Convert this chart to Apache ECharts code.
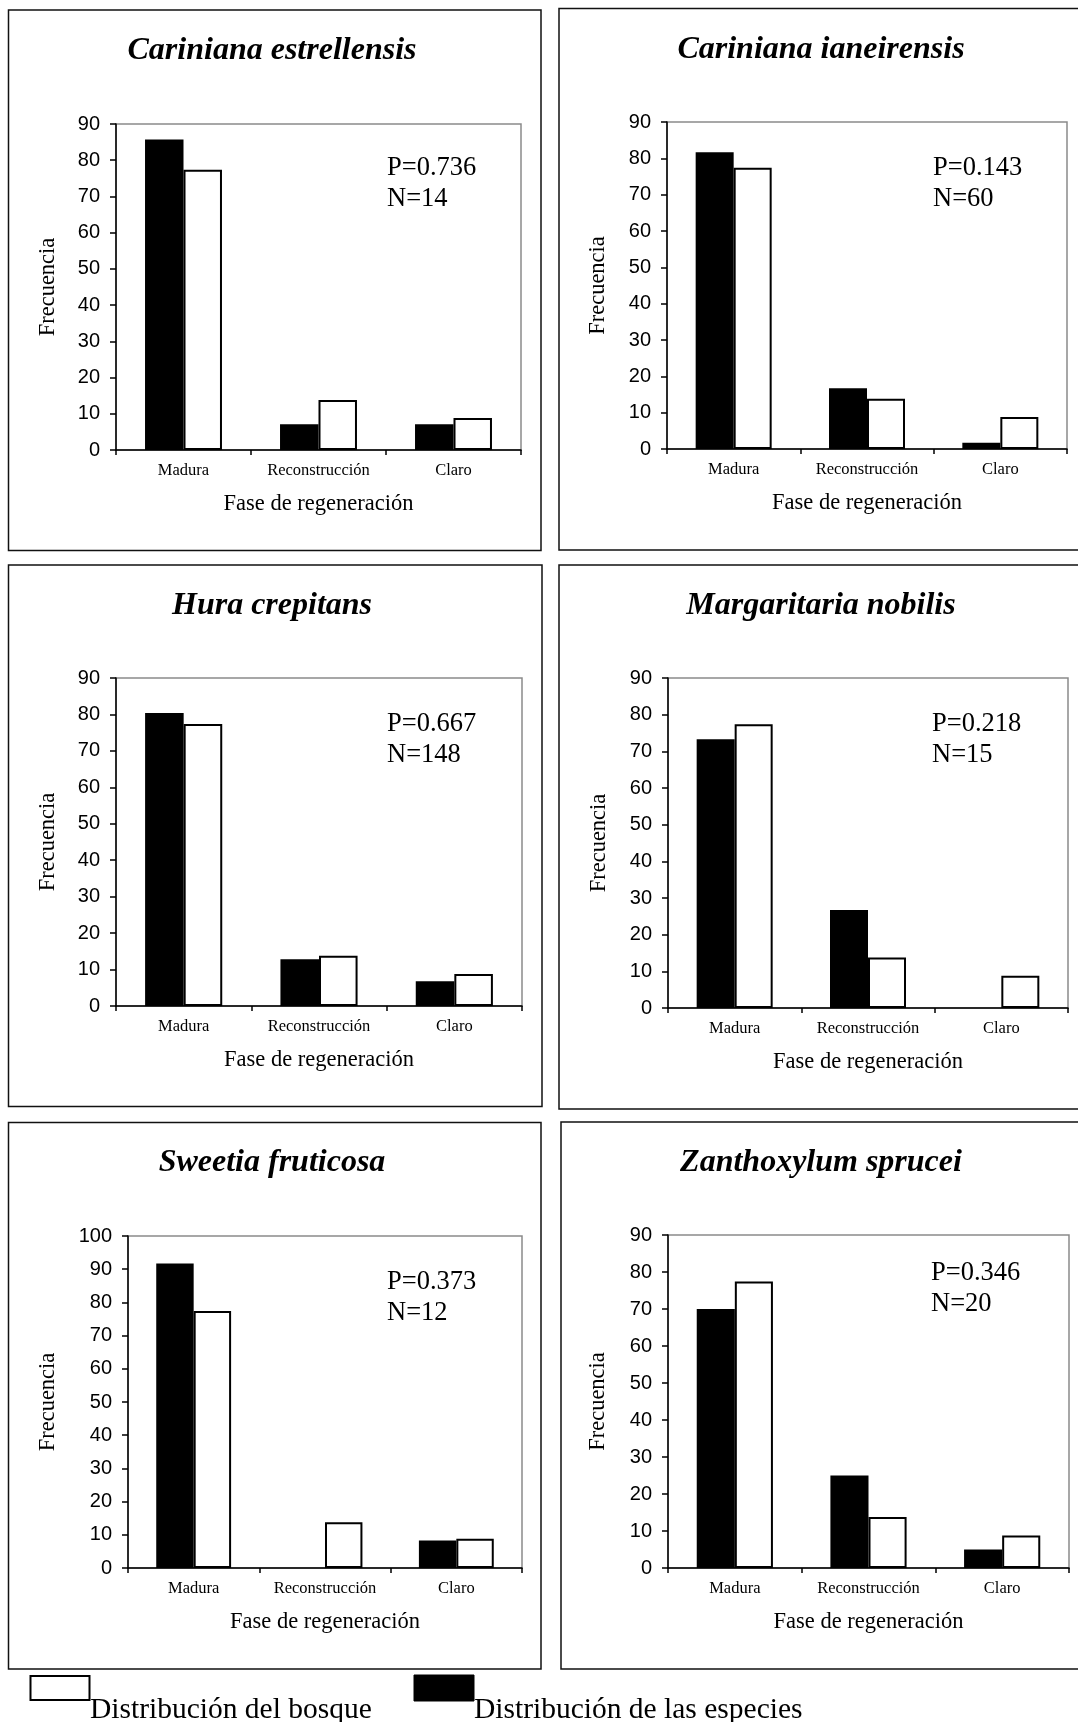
<!DOCTYPE html>
<html><head><meta charset="utf-8">
<script src="https://cdn.jsdelivr.net/npm/echarts@6/dist/echarts.min.js"></script>
<style>html,body{margin:0;padding:0;background:#fff}#c{width:1078px;height:1722px}</style>
</head><body><div id="c"></div>
<script>
// ---------- data ----------
const categories = ['Madura', 'Reconstrucción', 'Claro'];
const forestDist = [77.4, 13.8, 8.8];           // Distribución del bosque (white bars)
const estrellensis = [85.7, 7.1, 7.1];          // Distribución de las especies (black bars)
const ianeirensis = [81.7, 16.7, 1.7];
const hura = [80.4, 12.8, 6.8];
const margaritaria = [73.3, 26.7, 0];
const sweetia = [91.7, 0, 8.3];
const zanthoxylum = [70.0, 25.0, 5.0];
const speciesNames = ['Cariniana estrellensis', 'Cariniana ianeirensis', 'Hura crepitans',
  'Margaritaria nobilis', 'Sweetia fruticosa', 'Zanthoxylum sprucei'];
const pValues = ['0.736', '0.143', '0.667', '0.218', '0.373', '0.346'];
const nValues = ['14', '60', '148', '15', '12', '20'];
const yMax = [90, 90, 90, 90, 100, 90];
const yInterval = 10;
const legendLabels = ['Distribución del bosque', 'Distribución de las especies'];
const xTitle = 'Fase de regeneración';
const yTitle = 'Frecuencia';
const speciesData = [estrellensis, ianeirensis, hura, margaritaria, sweetia, zanthoxylum];

// ---------- layout ----------
const SERIF = '"Liberation Serif","Times New Roman",serif';
const SANS = '"Liberation Sans",Arial,sans-serif';
const layout = [
  { box: [8.5, 10, 532.5, 540.5], grid: [116, 124, 521, 450], title: [272, 51], pn: [387, 168], yGap: 56 },
  { box: [559, 8.5, 530, 541.5], grid: [667, 122, 1067, 449], title: [821, 50], pn: [933, 168], yGap: 57 },
  { box: [8.5, 565, 533.5, 541.5], grid: [116, 678, 522, 1006], title: [272, 606], pn: [387, 724], yGap: 56 },
  { box: [559, 565, 530, 544], grid: [668, 678, 1068, 1008], title: [821, 606], pn: [932, 724], yGap: 57 },
  { box: [8.5, 1122.5, 532.5, 546.5], grid: [128, 1236, 522, 1568], title: [272, 1163], pn: [387, 1282], yGap: 68 },
  { box: [561, 1122, 530, 547], grid: [668, 1235, 1069, 1568], title: [821, 1163], pn: [931, 1273], yGap: 58 }
];

const grids = [], xAxes = [], yAxes = [], series = [], graphics = [];
layout.forEach((L, i) => {
  const [gl, gt, gr, gb] = L.grid;
  grids.push({ left: gl, top: gt, width: gr - gl, height: gb - gt, show: true,
    borderColor: '#8a8a8a', borderWidth: 1.5, backgroundColor: 'transparent', containLabel: false });
  xAxes.push({
    gridIndex: i, type: 'category', data: categories,
    axisLine: { show: true, lineStyle: { color: '#000', width: 1.5 } },
    axisTick: { show: true, length: 5, lineStyle: { color: '#000', width: 1.5 } },
    axisLabel: { interval: 0, margin: 12, color: '#000', fontFamily: SERIF, fontSize: 16.5 },
    splitLine: { show: false },
    name: xTitle, nameLocation: 'middle', nameGap: 43,
    nameTextStyle: { color: '#000', fontFamily: SERIF, fontSize: 22.5 }
  });
  yAxes.push({
    gridIndex: i, type: 'value', min: 0, max: yMax[i], interval: yInterval,
    axisLine: { show: true, lineStyle: { color: '#000', width: 1.5 } },
    axisTick: { show: true, length: 6, lineStyle: { color: '#000', width: 1.5 } },
    axisLabel: { margin: 16, color: '#000', fontFamily: SANS, fontSize: 20 },
    splitLine: { show: false },
    name: yTitle, nameLocation: 'middle', nameGap: L.yGap,
    nameTextStyle: { color: '#000', fontFamily: SERIF, fontSize: 22.5 }
  });
  series.push({
    name: legendLabels[1], type: 'bar', xAxisIndex: i, yAxisIndex: i, data: speciesData[i],
    barGap: '0%', barCategoryGap: '43%', silent: true,
    itemStyle: { color: '#000' }
  });
  series.push({
    name: legendLabels[0], type: 'bar', xAxisIndex: i, yAxisIndex: i, data: forestDist,
    barGap: '0%', barCategoryGap: '43%', silent: true,
    itemStyle: { color: '#fff', borderColor: '#000', borderWidth: 2 }
  });
  const [bx, by, bw, bh] = L.box;
  graphics.push({ type: 'rect', silent: true, shape: { x: bx, y: by, width: bw, height: bh },
    style: { fill: 'none', stroke: '#111', lineWidth: 1.5 } });
  graphics.push({ type: 'text', silent: true, style: {
    text: speciesNames[i], x: L.title[0], y: L.title[1], textAlign: 'center', textVerticalAlign: 'middle',
    font: 'italic bold 32px ' + SERIF, fill: '#000' } });
  graphics.push({ type: 'text', silent: true, style: {
    text: 'P=' + pValues[i], x: L.pn[0], y: L.pn[1], textAlign: 'left', textVerticalAlign: 'middle',
    font: '26.5px ' + SERIF, fill: '#000' } });
  graphics.push({ type: 'text', silent: true, style: {
    text: 'N=' + nValues[i], x: L.pn[0], y: L.pn[1] + 31, textAlign: 'left', textVerticalAlign: 'middle',
    font: '26.5px ' + SERIF, fill: '#000' } });
});

// legend (drawn at the bottom)
graphics.push({ type: 'rect', silent: true, shape: { x: 30.5, y: 1676, width: 59, height: 24 },
  style: { fill: '#fff', stroke: '#000', lineWidth: 2 } });
graphics.push({ type: 'text', silent: true, style: { text: legendLabels[0], x: 90, y: 1710,
  textAlign: 'left', textVerticalAlign: 'middle', font: '29.5px ' + SERIF, fill: '#000' } });
graphics.push({ type: 'rect', silent: true, shape: { x: 414, y: 1675, width: 60, height: 26 },
  style: { fill: '#000', stroke: '#000', lineWidth: 1 } });
graphics.push({ type: 'text', silent: true, style: { text: legendLabels[1], x: 474, y: 1710,
  textAlign: 'left', textVerticalAlign: 'middle', font: '29.5px ' + SERIF, fill: '#000' } });

const chart = echarts.init(document.getElementById('c'), null, { renderer: 'canvas' });
chart.setOption({
  backgroundColor: '#fff',
  animation: false,
  grid: grids, xAxis: xAxes, yAxis: yAxes, series: series,
  graphic: graphics
});
</script>
</body></html>
